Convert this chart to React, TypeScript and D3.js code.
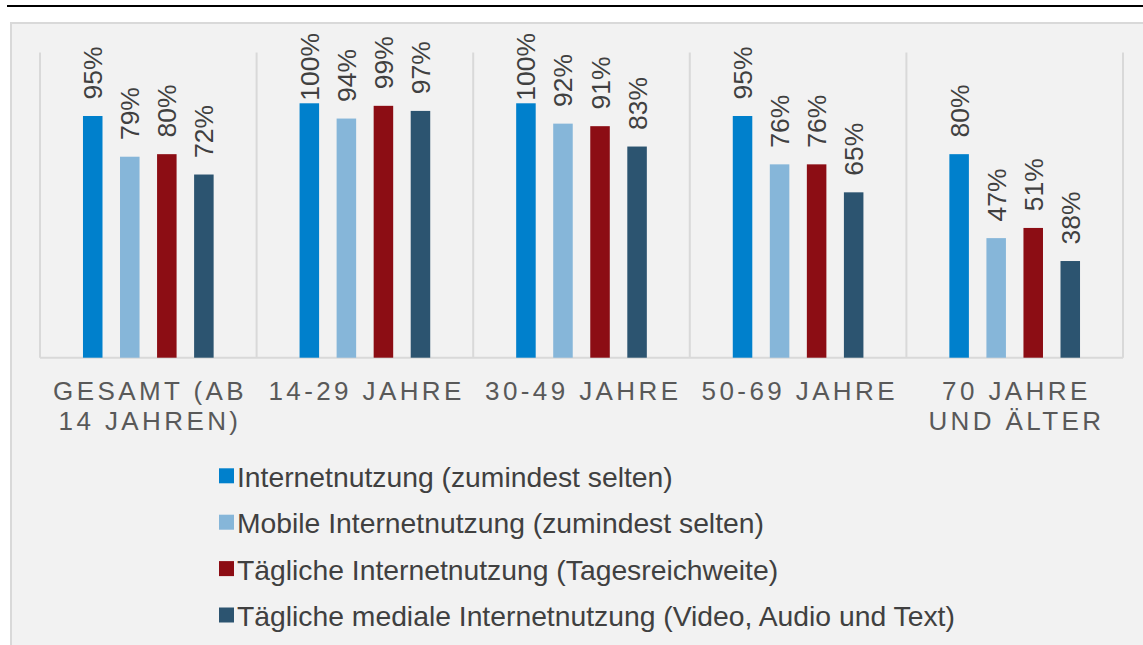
import React from "react";
import * as d3 from "d3";

const categories = ["GESAMT (AB\n14 JAHREN)", "14-29 JAHRE", "30-49 JAHRE", "50-69 JAHRE", "70 JAHRE\nUND ÄLTER"];
const seriesNames = [
  "Internetnutzung (zumindest selten)",
  "Mobile Internetnutzung (zumindest selten)",
  "Tägliche Internetnutzung (Tagesreichweite)",
  "Tägliche mediale Internetnutzung (Video, Audio und Text)",
];
const internet = [95, 100, 100, 95, 80];
const mobile = [79, 94, 92, 76, 47];
const daily = [80, 99, 91, 76, 51];
const media = [72, 97, 83, 65, 38];
const seriesValues = [internet, mobile, daily, media];
const colors = ["#0080CC", "#86B6D9", "#8C0D14", "#2C5470"];

const W = 1143;
const H = 645;
const FONT = "'Liberation Sans', Arial, sans-serif";

let measureCtx: CanvasRenderingContext2D | null = null;
function textWidth(s: string, size: number) {
  if (!measureCtx) {
    const c = document.createElement("canvas");
    measureCtx = c.getContext("2d");
  }
  if (!measureCtx) return s.length * size * 0.6;
  measureCtx.font = `${size}px ${FONT}`;
  return measureCtx.measureText(s).width;
}

export default function App() {
  const left = 40;
  const right = 1123;
  const top = 52.4;
  const base = 357.7;

  const x0 = d3.scaleBand<string>().domain(categories).range([left, right]).padding(0);
  const x1 = d3
    .scaleBand<string>()
    .domain(seriesNames)
    .range([0, x0.bandwidth()])
    .paddingInner(0.473)
    .paddingOuter(1.16);
  const y = d3.scaleLinear().domain([0, 120]).range([base, top]);

  const labelSize = 26.5;
  const catSize = 26;
  const ls = 3.4;
  const legendSize = 28.3;

  const separators = categories.map((c) => x0(c)!).concat([right]);

  return (
    <svg
      width={W}
      height={H}
      style={{ position: "absolute", left: 0, top: 0, display: "block" }}
      fontFamily={FONT}
    >
      <rect x={0} y={0} width={W} height={H} fill="#ffffff" />
      <line x1={7} x2={W} y1={6} y2={6} stroke="#000000" strokeWidth={2} />
      <rect x={11} y={23} width={W + 20} height={H} fill="#f2f2f2" stroke="#d9d9d9" strokeWidth={2} />

      {/* gridlines / separators */}
      {separators.map((sx, i) => (
        <line key={"s" + i} x1={sx} x2={sx} y1={top} y2={base} stroke="#d9d9d9" strokeWidth={2} />
      ))}
      <line x1={left} x2={right} y1={base} y2={base} stroke="#d9d9d9" strokeWidth={2} />

      {/* bars */}
      {categories.map((c, ci) => (
        <g key={c} transform={`translate(${x0(c)},0)`}>
          {seriesNames.map((s, si) => {
            const v = seriesValues[si][ci];
            return (
              <rect
                key={s}
                x={x1(s)}
                y={y(v)}
                width={x1.bandwidth()}
                height={base - y(v)}
                fill={colors[si]}
              />
            );
          })}
        </g>
      ))}

      {/* value labels */}
      {categories.map((c, ci) =>
        seriesNames.map((s, si) => {
          const v = seriesValues[si][ci];
          const label = `${v}%`;
          const cx = x0(c)! + x1(s)! + x1.bandwidth() / 2;
          const w = textWidth(label, labelSize);
          const oy = Math.max(y(v) - 16.6, 33 + w);
          return (
            <text
              key={c + s}
              transform={`translate(${cx + 9.5},${oy}) rotate(-90)`}
              fontSize={labelSize}
              fill="#404040"
            >
              {label}
            </text>
          );
        })
      )}

      {/* category labels */}
      {categories.map((c) => {
        const cx = x0(c)! + x0.bandwidth() / 2;
        return c.split("\n").map((line, li) => (
          <text
            key={c + li}
            x={cx + ls / 2}
            y={400 + li * 29.5}
            textAnchor="middle"
            fontSize={catSize}
            letterSpacing={ls}
            fill="#595959"
          >
            {line}
          </text>
        ));
      })}

      {/* legend */}
      {seriesNames.map((s, i) => {
        const by = 486.7 + i * 46.4;
        return (
          <g key={"lg" + s}>
            <rect x={219} y={by - 18.4} width={15} height={15} fill={colors[i]} />
            <text x={237} y={by} fontSize={legendSize} fill="#404040">
              {s}
            </text>
          </g>
        );
      })}
    </svg>
  );
}
